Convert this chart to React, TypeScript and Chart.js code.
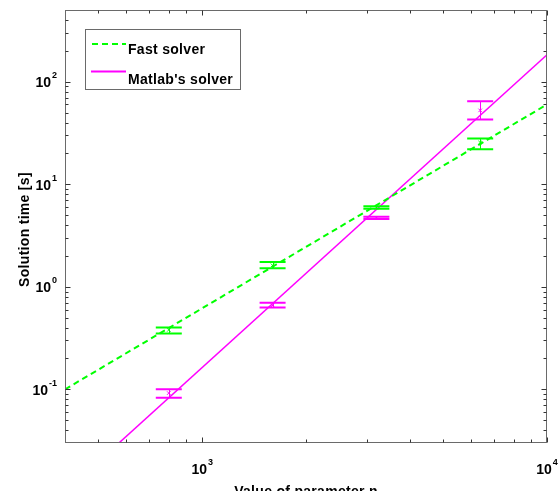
import { useEffect, useRef } from "react";
import { Chart, registerables } from "chart.js";

Chart.register(...registerables);

// ---- data ----
const nValues = [800, 1600, 3200, 6400];
const fastMean = [0.38, 1.62, 5.9, 25.5];
const fastLow = [0.35, 1.52, 5.78, 21.9];
const fastHigh = [0.4, 1.75, 6.1, 27.9];
const matlabMean = [0.092, 0.66, 4.7, 52.5];
const matlabLow = [0.083, 0.63, 4.59, 42.7];
const matlabHigh = [0.1, 0.7, 4.81, 64.3];

const fastFitX = [400, 10000];
const fastFitY = [0.1, 60];
const matlabFitX = [400, 10000];
const matlabFitY = [0.01, 183];

const xTickValues = [1000, 10000];
const xTickExponents = ["3", "4"];
const yTickValues = [0.1, 1, 10, 100];
const yTickExponents = ["-1", "0", "1", "2"];

const seriesNames = ["Fast solver", "Matlab's solver"];
const xTitle = "Value of parameter n";
const yTitle = "Solution time [s]";

const X_MIN = 400;
const X_MAX = 10000;
const Y_MIN = 0.03;
const Y_MAX = 500;

const GREEN = "#00ff00";
const MAGENTA = "#ff00ff";
const FONT = "'Liberation Sans', Arial, Helvetica, sans-serif";

function minorTicks(min: number, max: number): number[] {
  const out: number[] = [];
  for (let e = Math.floor(Math.log10(min)); e <= Math.ceil(Math.log10(max)); e++) {
    for (let m = 2; m <= 9; m++) {
      const v = m * Math.pow(10, e);
      if (v > min * 1.0001 && v < max * 0.9999) out.push(v);
    }
  }
  return out;
}

const matlabPlugin = {
  id: "matlabStyle",
  afterDatasetsDraw(chart: any) {
    const ctx = chart.ctx as any;
    const xs = chart.scales.x;
    const ys = chart.scales.y;
    const area = chart.chartArea;
    const L = Math.floor(area.left) + 0.5;
    const T = Math.floor(area.top) + 0.5;
    const R = Math.ceil(area.right) - 0.5;
    const B = Math.ceil(area.bottom) - 0.5;

    ctx.save();

    // error bars
    const drawErr = (low: number[], high: number[], color: string) => {
      ctx.strokeStyle = color;
      nValues.forEach((n, i) => {
        const px = xs.getPixelForValue(n);
        const yl = ys.getPixelForValue(low[i]);
        const yh = ys.getPixelForValue(high[i]);
        ctx.lineWidth = 1;
        ctx.beginPath();
        ctx.moveTo(Math.round(px) + 0.5, yl);
        ctx.lineTo(Math.round(px) + 0.5, yh);
        ctx.stroke();
        ctx.lineWidth = 2;
        ctx.beginPath();
        ctx.moveTo(px - 13, yl);
        ctx.lineTo(px + 13, yl);
        ctx.moveTo(px - 13, yh);
        ctx.lineTo(px + 13, yh);
        ctx.stroke();
      });
    };
    drawErr(fastLow, fastHigh, GREEN);
    drawErr(matlabLow, matlabHigh, MAGENTA);

    // axes box
    ctx.strokeStyle = "#6a6a6a";
    ctx.lineWidth = 1;
    ctx.strokeRect(L, T, R - L, B - T);

    // ticks
    ctx.strokeStyle = "#333";
    ctx.beginPath();
    const xt = (v: number, len: number) => {
      const p = Math.round(xs.getPixelForValue(v)) + 0.5;
      ctx.moveTo(p, B);
      ctx.lineTo(p, B - len);
      ctx.moveTo(p, T);
      ctx.lineTo(p, T + len);
    };
    const yt = (v: number, len: number) => {
      const p = Math.round(ys.getPixelForValue(v)) + 0.5;
      ctx.moveTo(L, p);
      ctx.lineTo(L + len, p);
      ctx.moveTo(R, p);
      ctx.lineTo(R - len, p);
    };
    minorTicks(X_MIN, X_MAX).forEach((v) => xt(v, 3));
    xTickValues.forEach((v) => xt(v, 5));
    minorTicks(Y_MIN, Y_MAX).forEach((v) => yt(v, 3));
    yTickValues.forEach((v) => yt(v, 5));
    ctx.stroke();

    // tick labels
    ctx.fillStyle = "#000";
    const bigFont = `bold 14px ${FONT}`;
    const smallFont = `bold 9px ${FONT}`;
    ctx.textBaseline = "alphabetic";
    ctx.textAlign = "left";
    xTickValues.forEach((v, i) => {
      const p = xs.getPixelForValue(v);
      ctx.font = bigFont;
      const w10 = ctx.measureText("10").width;
      ctx.font = smallFont;
      const we = ctx.measureText(xTickExponents[i]).width;
      const start = p - (w10 + we + 1) / 2;
      ctx.font = bigFont;
      ctx.fillText("10", start, 473.5);
      ctx.font = smallFont;
      ctx.fillText(xTickExponents[i], start + w10 + 1, 465);
    });
    yTickValues.forEach((v, i) => {
      const p = ys.getPixelForValue(v);
      ctx.font = bigFont;
      const w10 = ctx.measureText("10").width;
      ctx.font = smallFont;
      const we = ctx.measureText(yTickExponents[i]).width;
      const end = 57;
      const start = end - we - w10 - 1;
      ctx.font = bigFont;
      ctx.fillText("10", start, p + 5.5);
      ctx.font = smallFont;
      ctx.fillText(yTickExponents[i], start + w10 + 1, p - 3.5);
    });

    // axis titles
    ctx.font = bigFont;
    ctx.letterSpacing = "0.3px";
    ctx.textAlign = "center";
    ctx.fillText(xTitle, (area.left + area.right) / 2, 496);
    ctx.save();
    ctx.translate(28.5, (area.top + area.bottom) / 2 + 3);
    ctx.rotate(-Math.PI / 2);
    ctx.fillText(yTitle, 0, 0);
    ctx.restore();

    // legend
    ctx.fillStyle = "#fff";
    ctx.fillRect(85.5, 29.5, 155, 60);
    ctx.strokeStyle = "#6a6a6a";
    ctx.lineWidth = 1;
    ctx.strokeRect(85.5, 29.5, 155, 60);
    ctx.lineWidth = 2;
    ctx.strokeStyle = GREEN;
    ctx.setLineDash([6, 4]);
    ctx.beginPath();
    ctx.moveTo(92, 44);
    ctx.lineTo(126, 44);
    ctx.stroke();
    ctx.setLineDash([]);
    ctx.strokeStyle = MAGENTA;
    ctx.beginPath();
    ctx.moveTo(91, 71.5);
    ctx.lineTo(126, 71.5);
    ctx.stroke();
    ctx.fillStyle = "#000";
    ctx.textAlign = "left";
    ctx.font = bigFont;
    ctx.fillText(seriesNames[0], 128, 53.5);
    ctx.fillText(seriesNames[1], 128, 83.5);
    ctx.letterSpacing = "0px";

    ctx.restore();
  },
};

export default function App() {
  const canvasRef = useRef<HTMLCanvasElement | null>(null);

  useEffect(() => {
    const canvas = canvasRef.current;
    if (!canvas) return;
    const toPts = (xsArr: number[], ysArr: number[]) =>
      xsArr.map((x, i) => ({ x, y: ysArr[i] }));
    const chart = new Chart(canvas, {
      type: "line",
      data: {
        datasets: [
          {
            label: seriesNames[0],
            data: toPts(fastFitX, fastFitY),
            borderColor: GREEN,
            borderWidth: 2,
            borderDash: [6, 4],
            pointRadius: 0,
            fill: false,
            clip: 0,
          },
          {
            label: seriesNames[1],
            data: toPts(matlabFitX, matlabFitY),
            borderColor: MAGENTA,
            borderWidth: 1.5,
            pointRadius: 0,
            fill: false,
            clip: 0,
          },
          {
            label: seriesNames[0] + " mean",
            data: toPts(nValues, fastMean),
            showLine: false,
            pointStyle: "crossRot",
            pointRadius: 2.5,
            borderColor: GREEN,
            backgroundColor: GREEN,
            borderWidth: 1,
          },
          {
            label: seriesNames[1] + " mean",
            data: toPts(nValues, matlabMean),
            showLine: false,
            pointStyle: "crossRot",
            pointRadius: 2.5,
            borderColor: MAGENTA,
            backgroundColor: MAGENTA,
            borderWidth: 1,
          },
        ],
      } as any,
      options: {
        animation: false,
        responsive: false,
        parsing: false as any,
        layout: { padding: { left: 65, top: 10, right: 12, bottom: 48 } },
        plugins: { legend: { display: false }, tooltip: { enabled: false } },
        scales: {
          x: { type: "logarithmic", min: X_MIN, max: X_MAX, display: false },
          y: { type: "logarithmic", min: Y_MIN, max: Y_MAX, display: false },
        },
      } as any,
      plugins: [matlabPlugin],
    });
    return () => chart.destroy();
  }, []);

  return (
    <div style={{ position: "absolute", left: 0, top: 0, width: 559, height: 491, background: "#fff" }}>
      <canvas ref={canvasRef} width={559} height={491} style={{ display: "block" }} />
    </div>
  );
}
